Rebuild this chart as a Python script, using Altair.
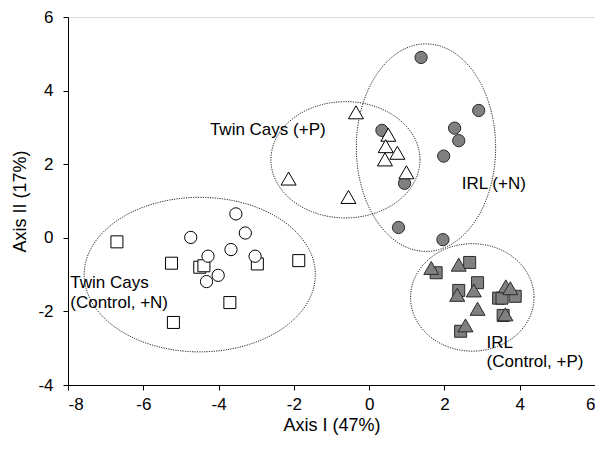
import altair as alt
import numpy as np
import pandas as pd

# Twin Cays, open squares
tc_sq_x = [-6.70, -5.25, -4.50, -4.39, -2.97, -1.87, -3.70, -5.20]
tc_sq_y = [-0.11, -0.69, -0.80, -0.76, -0.71, -0.62, -1.76, -2.30]
# Twin Cays, open circles
tc_ci_x = [-3.54, -4.74, -3.29, -3.67, -4.28, -3.03, -4.01, -4.32]
tc_ci_y = [0.65, 0.01, 0.13, -0.32, -0.50, -0.50, -1.02, -1.19]
# Twin Cays (+P), open triangles
tc_tr_x = [-0.35, 0.51, 0.44, 0.75, 0.42, 0.99, -2.14, -0.55]
tc_tr_y = [3.41, 2.80, 2.49, 2.31, 2.13, 1.78, 1.61, 1.11]
# IRL (+N), gray circles
irl_ci_x = [1.38, 2.91, 2.27, 2.38, 1.98, 0.34, 0.94, 0.78, 1.96]
irl_ci_y = [4.90, 3.46, 2.98, 2.64, 2.22, 2.92, 1.48, 0.28, -0.05]
# IRL control, gray squares
irl_sq_x = [1.78, 2.67, 2.88, 2.38, 3.44, 3.53, 3.88, 3.56, 2.43]
irl_sq_y = [-0.95, -0.67, -1.22, -1.43, -1.64, -1.64, -1.59, -2.11, -2.54]
# IRL (+P), gray triangles
irl_tr_x = [1.65, 2.38, 2.34, 2.78, 2.88, 2.56, 3.63, 3.75, 3.62]
irl_tr_y = [-0.82, -0.73, -1.55, -1.43, -1.93, -2.38, -1.32, -1.37, -2.08]

# Group ellipses: centre x, centre y, radius x, radius y
ell_cx = [-4.50, -0.63, 1.51, 2.74]
ell_cy = [-1.00, 2.12, 2.45, -1.62]
ell_rx = [3.07, 1.98, 1.85, 1.64]
ell_ry = [2.10, 1.58, 2.82, 1.46]

# Labels
lab_text = ["Twin Cays (+P)", "IRL (+N)", "Twin Cays", "(Control, +N)", "IRL", "(Control, +P)"]
lab_x = [-4.23, 2.46, -7.94, -7.94, 3.12, 3.12]
lab_y = [2.92, 1.46, -1.24, -1.76, -2.86, -3.38]

FONT = "Liberation Sans"

def pts(xs, ys, site):
    return pd.DataFrame({"x": xs, "y": ys, "site": site})

sq = pd.concat([pts(tc_sq_x, tc_sq_y, "TC"), pts(irl_sq_x, irl_sq_y, "IRL")])
ci = pd.concat([pts(tc_ci_x, tc_ci_y, "TC"), pts(irl_ci_x, irl_ci_y, "IRL")])
tr = pd.concat([pts(tc_tr_x, tc_tr_y, "TC"), pts(irl_tr_x, irl_tr_y, "IRL")])

rows = []
t = np.linspace(0, 2 * np.pi, 241)
for i in range(len(ell_cx)):
    for k, tt in enumerate(t):
        rows.append({"e": i, "k": k,
                     "x": ell_cx[i] + ell_rx[i] * np.cos(tt),
                     "y": ell_cy[i] + ell_ry[i] * np.sin(tt)})
ell = pd.DataFrame(rows)
labs = pd.DataFrame({"t": lab_text, "x": lab_x, "y": lab_y})

LBL = "datum.value < 0 ? '-' + abs(datum.value) : '' + datum.value"
xs = alt.Scale(domain=[-8, 6], nice=False, zero=False)
ys = alt.Scale(domain=[-4, 6], nice=False, zero=False)
X = alt.X("x:Q", scale=xs, axis=alt.Axis(values=list(range(-8, 7, 2)), title="Axis I (47%)",
          grid=False, tickSize=5, labelFontSize=17, titleFontSize=18, labelFont=FONT, titleFont=FONT,
          titleFontWeight="normal", labelPadding=6, titlePadding=4, domainColor="black",
          tickColor="black", labelColor="black", titleColor="black", labelExpr=LBL))
Y = alt.Y("y:Q", scale=ys, axis=alt.Axis(values=list(range(-4, 7, 2)), title="Axis II (17%)",
          grid=False, tickSize=5, labelFontSize=17, titleFontSize=18, labelFont=FONT, titleFont=FONT,
          titleFontWeight="normal", labelPadding=10, titlePadding=8, domainColor="black",
          tickColor="black", labelColor="black", titleColor="black", labelExpr=LBL))

fill = alt.Fill("site:N", scale=alt.Scale(domain=["TC", "IRL"], range=["white", "#808080"]), legend=None)
stroke = alt.Stroke("site:N", scale=alt.Scale(domain=["TC", "IRL"], range=["black", "#2a2a2a"]), legend=None)

ellipses = alt.Chart(ell).mark_line(strokeDash=[1.2, 1.2], strokeWidth=1, color="#222222").encode(
    x=X, y=Y, detail="e:N", order="k:Q")
l_sq = alt.Chart(sq).mark_point(shape="square", size=144, filled=True, strokeWidth=1, opacity=1).encode(
    x=X, y=Y, fill=fill, stroke=stroke)
l_ci = alt.Chart(ci).mark_point(shape="circle", size=150, filled=True, strokeWidth=1, opacity=1).encode(
    x=X, y=Y, fill=fill, stroke=stroke)
l_tr = alt.Chart(tr).mark_point(shape="triangle-up", size=225, filled=True, strokeWidth=1, opacity=1).encode(
    x=X, y=Y, fill=fill, stroke=stroke)
texts = alt.Chart(labs).mark_text(align="left", baseline="middle", fontSize=17, font=FONT,
                                  color="black").encode(x=X, y=Y, text="t:N")

chart = alt.layer(ellipses, l_sq, l_ci, l_tr, texts).properties(
    width=527, height=368, autosize=alt.AutoSizeParams(type="none"),
    padding={"left": 60, "top": 9, "right": 0, "bottom": 53}
).configure_view(stroke=None).configure(background="white")

chart.save("out.html", embed_options={"renderer": "svg", "actions": False})
